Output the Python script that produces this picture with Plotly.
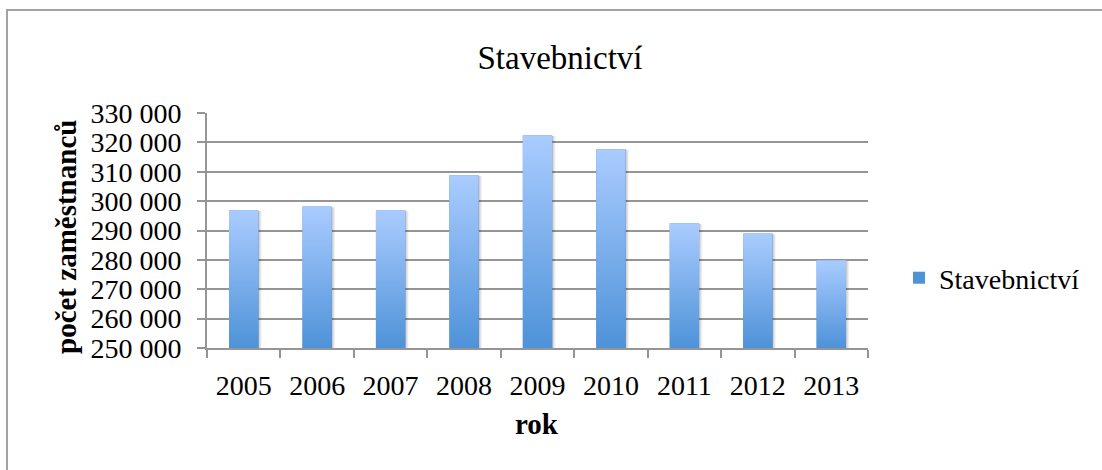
import plotly.graph_objects as go

# Počet zaměstnanců ve stavebnictví podle roku
roky = ["2005", "2006", "2007", "2008", "2009", "2010", "2011", "2012", "2013"]
zamestnanci = [296900, 298200, 296900, 308800, 322400, 317700, 292500, 289000, 279900]
nazev_rady = "Stavebnictví"
y_ticks = [250000, 260000, 270000, 280000, 290000, 300000, 310000, 320000, 330000]

# Rozměry a styl
W, H = 1102, 470
M_L, M_R, M_T, M_B = 207, 234, 113, 122
BAR_W = 0.4
Y_BASE = y_ticks[0]
DARK = "#4E92D8"
LIGHT = "#AACCFF"
GRID = "#959595"
FONT = "Liberation Serif"

PW = W - M_L - M_R
PH = H - M_T - M_B


def px_x(x):
    return (x - M_L) / PW


def px_y(y):
    return (H - M_B - y) / PH


fig = go.Figure()

# Datová řada (kategorie na ose x, slouží i pro legendu)
fig.add_trace(go.Bar(
    x=roky, y=zamestnanci, name=nazev_rady,
    marker=dict(color=DARK, line=dict(width=0)),
))

# Jemný stín vpravo od sloupců
for i, v in enumerate(zamestnanci):
    for off, alpha in ((0.045, 0.05), (0.03, 0.07), (0.015, 0.09)):
        fig.add_trace(go.Scatter(
            x=[i - BAR_W / 2 + off, i + BAR_W / 2 + off, i + BAR_W / 2 + off,
               i - BAR_W / 2 + off, i - BAR_W / 2 + off],
            y=[Y_BASE, Y_BASE, v - 250, v - 250, Y_BASE],
            xaxis="x2", mode="lines", line=dict(width=0),
            fill="toself", fillcolor=f"rgba(0,0,0,{alpha})",
            showlegend=False, hoverinfo="skip",
        ))

# Sloupce s vertikálním přechodem barvy
for i, v in enumerate(zamestnanci):
    fig.add_trace(go.Scatter(
        x=[i - BAR_W / 2, i + BAR_W / 2, i + BAR_W / 2, i - BAR_W / 2, i - BAR_W / 2],
        y=[Y_BASE, Y_BASE, v, v, Y_BASE],
        xaxis="x2", mode="lines", line=dict(width=0),
        fill="toself", fillcolor=DARK,
        fillgradient=dict(type="vertical", start=Y_BASE, stop=v,
                          colorscale=[[0, DARK], [1, LIGHT]]),
        showlegend=False, hoverinfo="skip",
    ))

fig.update_layout(
    width=W, height=H,
    margin=dict(l=M_L, r=M_R, t=M_T, b=M_B),
    paper_bgcolor="white", plot_bgcolor="white",
    separators=", ",
    bargap=1 - BAR_W,
    font=dict(family=FONT, color="black"),
    title=dict(text=nazev_rady, x=560 / W, xanchor="center",
               y=1 - 57 / H, yanchor="middle", yref="container",
               font=dict(family=FONT, size=33, color="black")),
    xaxis=dict(
        type="category", range=[-0.5, len(roky) - 0.5],
        showline=True, linecolor=GRID, linewidth=2,
        ticks="outside", tickson="boundaries", ticklen=8, tickcolor=GRID, tickwidth=2,
        tickfont=dict(family=FONT, size=28, color="black"),
        ticklabelstandoff=11,
        showgrid=False, zeroline=False,
    ),
    xaxis2=dict(
        overlaying="x", range=[-0.5, len(roky) - 0.5], visible=False,
    ),
    yaxis=dict(
        range=[y_ticks[0], y_ticks[-1]], tickvals=y_ticks, tickformat=",d",
        showline=True, linecolor=GRID, linewidth=2,
        ticks="outside", ticklen=8, tickcolor=GRID, tickwidth=2,
        tickfont=dict(family=FONT, size=28, color="black"),
        ticklabelstandoff=10,
        showgrid=True, gridcolor=GRID, gridwidth=2, zeroline=False,
    ),
    legend=dict(
        x=px_x(899), xanchor="left", y=px_y(278), yanchor="middle",
        font=dict(family=FONT, size=28, color="black"),
        bgcolor="rgba(0,0,0,0)",
    ),
    showlegend=True,
    annotations=[
        dict(text="<b>počet zaměstnanců</b>", xref="paper", yref="paper",
             x=px_x(66), y=px_y(237), xanchor="center", yanchor="middle",
             textangle=-90, showarrow=False,
             font=dict(family=FONT, size=29, color="black")),
        dict(text="<b>rok</b>", xref="paper", yref="paper",
             x=px_x(537), y=px_y(424), xanchor="center", yanchor="middle",
             showarrow=False,
             font=dict(family=FONT, size=29, color="black")),
    ],
    shapes=[
        dict(type="rect", xref="paper", yref="paper",
             x0=px_x(7), y0=px_y(H + 20), x1=px_x(W + 20), y1=px_y(10),
             line=dict(color="#A3A3A3", width=2), fillcolor="rgba(0,0,0,0)",
             layer="below"),
    ],
)

fig.write_html("out.html")
